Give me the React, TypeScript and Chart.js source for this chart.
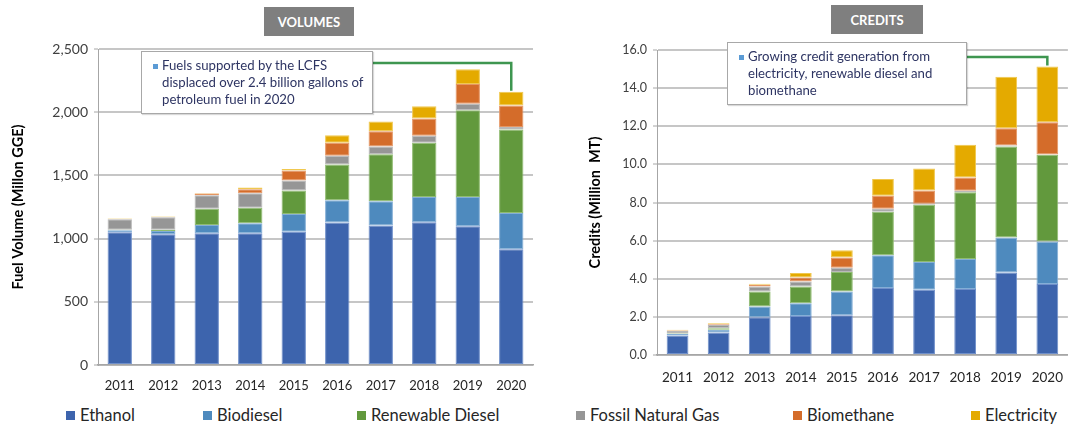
import React, { useEffect, useRef } from "react";
import { Chart, registerables } from "chart.js";

Chart.register(...registerables);

const YEARS = ["2011", "2012", "2013", "2014", "2015", "2016", "2017", "2018", "2019", "2020"];

const SERIES_NAMES = ["Ethanol", "Biodiesel", "Renewable Diesel", "Fossil Natural Gas", "Biomethane", "Electricity"];
const SERIES_COLORS = ["#3d64ad", "#4e8abe", "#62993d", "#969696", "#d46c2a", "#e4aa00"];
const SERIES_EDGES = ["#6f8fca", "#84aed6", "#8fbb70", "#b9b9b9", "#e59663", "#f0c84f"];

// Volumes (million GGE)
const VOL_ETHANOL = [1050, 1034, 1042, 1042, 1055, 1127, 1103, 1129, 1098, 916];
const VOL_BIODIESEL = [16, 27, 66, 79, 140, 176, 193, 201, 232, 287];
const VOL_RENEWABLE_DIESEL = [5, 10, 129, 124, 185, 284, 372, 428, 686, 660];
const VOL_FOSSIL_GAS = [82, 98, 106, 114, 80, 68, 61, 55, 50, 19];
const VOL_BIOMETHANE = [2, 2, 13, 31, 79, 103, 121, 137, 158, 171];
const VOL_ELECTRICITY = [5, 3, 5, 14, 11, 60, 76, 97, 115, 108];

// Credits (million MT)
const CRED_ETHANOL = [1.02, 1.18, 1.98, 2.04, 2.09, 3.51, 3.42, 3.46, 4.33, 3.72];
const CRED_BIODIESEL = [0.08, 0.15, 0.56, 0.68, 1.24, 1.72, 1.46, 1.58, 1.83, 2.23];
const CRED_RENEWABLE_DIESEL = [0.03, 0.07, 0.79, 0.88, 1.02, 2.28, 3.0, 3.5, 4.78, 4.55];
const CRED_FOSSIL_GAS = [0.13, 0.18, 0.27, 0.26, 0.23, 0.16, 0.05, 0.08, 0.05, 0.02];
const CRED_BIOMETHANE = [0.02, 0.03, 0.08, 0.21, 0.54, 0.68, 0.7, 0.69, 0.91, 1.69];
const CRED_ELECTRICITY = [0.04, 0.06, 0.06, 0.23, 0.37, 0.88, 1.15, 1.72, 2.7, 2.93];

const VOL_TICK_STEP = 500;
const VOL_MAX = 2500;
const CRED_TICK_STEP = 2;
const CRED_MAX = 16;

const FONT = "Lato, 'Open Sans', sans-serif";

type ChartProps = {
  width: number;
  height: number;
  series: number[][];
  max: number;
  step: number;
  fmt: (v: number) => string;
  yTitle: string;
  yAxisWidth: number;
  titlePad: number;
  padTop: number;
  padRight: number;
  xAxisHeight: number;
  xTickPad: number;
  xTickSize: number;
  yTickSize: number;
  barPct: number;
  lineStartX: number;
  lineY: number;
};

function StackedChart(p: ChartProps) {
  const ref = useRef<HTMLCanvasElement | null>(null);
  useEffect(() => {
    if (!ref.current) return;
    const connector = {
      id: "connector",
      afterDatasetsDraw(chart: any) {
        const { ctx, scales } = chart;
        const idx = YEARS.length - 1;
        let total = 0;
        chart.data.datasets.forEach((d: any) => (total += d.data[idx]));
        const bx = scales.x.getPixelForValue(idx);
        const by = scales.y.getPixelForValue(total);
        ctx.save();
        ctx.strokeStyle = "#3e9650";
        ctx.lineWidth = 2.5;
        ctx.beginPath();
        ctx.moveTo(p.lineStartX, p.lineY);
        ctx.lineTo(bx, p.lineY);
        ctx.lineTo(bx, by - 1);
        ctx.stroke();
        ctx.restore();
      },
    };
    const chart = new Chart(ref.current, {
      type: "bar",
      data: {
        labels: YEARS,
        datasets: p.series.map((data, i) => ({
          label: SERIES_NAMES[i],
          data,
          backgroundColor: SERIES_COLORS[i],
          borderColor: SERIES_EDGES[i],
          borderWidth: 1,
          borderSkipped: false,
          barPercentage: p.barPct,
          categoryPercentage: 1,
        })),
      },
      options: {
        animation: false,
        responsive: false,
        devicePixelRatio: 1,
        layout: { padding: { top: p.padTop, right: p.padRight, left: 0, bottom: 0 } },
        plugins: { legend: { display: false }, tooltip: { enabled: false } },
        scales: {
          x: {
            stacked: true,
            grid: { display: false, drawTicks: false },
            border: { display: true, color: "#a6a6a6", width: 1.5 },
            ticks: { font: { family: FONT, size: p.xTickSize }, color: "#262626", padding: p.xTickPad },
            afterFit: (s: any) => {
              s.height = p.xAxisHeight;
            },
          },
          y: {
            stacked: true,
            min: 0,
            max: p.max,
            ticks: {
              stepSize: p.step,
              callback: (v: any) => p.fmt(Number(v)),
              font: { family: FONT, size: p.yTickSize },
              color: "#404040",
              padding: 6,
            },
            grid: { color: "#c6c6c6", lineWidth: 2, tickLength: 4, tickColor: "#a6a6a6", tickWidth: 1 },
            border: { display: true, color: "#a6a6a6", width: 1 },
            title: {
              display: true,
              text: p.yTitle,
              font: { family: FONT, size: 14.5, weight: "bold" },
              color: "#000",
              padding: { top: p.titlePad, bottom: 0 },
            },
            afterFit: (s: any) => {
              s.width = p.yAxisWidth;
            },
          },
        },
      },
      plugins: [connector],
    } as any);
    return () => chart.destroy();
  }, []);
  return <canvas ref={ref} width={p.width} height={p.height} style={{ width: p.width, height: p.height, display: "block" }} />;
}

function Note({ left, top, width, height, lines }: { left: number; top: number; width: number; height: number; lines: string[] }) {
  return (
    <div
      style={{
        position: "absolute",
        left,
        top,
        width,
        height,
        boxSizing: "border-box",
        background: "#fff",
        border: "1.5px solid #a8a8a8",
        boxShadow: "1px 1px 1px rgba(0,0,0,0.15)",
        fontFamily: FONT,
        fontSize: 13.2,
        lineHeight: "17px",
        color: "#2e3563",
        paddingTop: 5,
        paddingLeft: 20,
      }}
    >
      <div style={{ position: "absolute", left: 11, top: 12, width: 5, height: 5, background: "#5b9bd5" }} />
      {lines.map((l, i) => (
        <div key={i} style={{ whiteSpace: "nowrap" }}>
          {l}
        </div>
      ))}
    </div>
  );
}

function TitleBox({ left, top, width, height, text }: { left: number; top: number; width: number; height: number; text: string }) {
  return (
    <div
      style={{
        position: "absolute",
        left,
        top,
        width,
        height,
        background: "#7f7f7f",
        color: "#fff",
        fontFamily: FONT,
        fontWeight: 700,
        fontSize: 13,
        display: "flex",
        alignItems: "center",
        justifyContent: "center",
      }}
    >
      {text}
    </div>
  );
}

const LEGEND_X = [66, 203, 357, 576, 793, 971];

export default function App() {
  const volSeries = [VOL_ETHANOL, VOL_BIODIESEL, VOL_RENEWABLE_DIESEL, VOL_FOSSIL_GAS, VOL_BIOMETHANE, VOL_ELECTRICITY];
  const credSeries = [CRED_ETHANOL, CRED_BIODIESEL, CRED_RENEWABLE_DIESEL, CRED_FOSSIL_GAS, CRED_BIOMETHANE, CRED_ELECTRICITY];
  return (
    <div style={{ position: "fixed", left: 0, top: 0, width: 1078, height: 426, background: "#fff", overflow: "hidden" }}>
      <div style={{ position: "absolute", left: 0, top: 0 }}>
        <StackedChart
          width={545}
          height={395}
          series={volSeries}
          max={VOL_MAX}
          step={VOL_TICK_STEP}
          fmt={(v) => v.toLocaleString("en-US")}
          yTitle="Fuel Volume (Millon GGE)"
          yAxisWidth={98}
          titlePad={10}
          padTop={49}
          padRight={12}
          xAxisHeight={30}
          xTickPad={13}
          xTickSize={13}
          yTickSize={14}
          barPct={0.56}
          lineStartX={373}
          lineY={63}
        />
      </div>
      <div style={{ position: "absolute", left: 555, top: 0 }}>
        <StackedChart
          width={523}
          height={395}
          series={credSeries}
          max={CRED_MAX}
          step={CRED_TICK_STEP}
          fmt={(v) => v.toFixed(1)}
          yTitle="Credits (Million  MT)"
          yAxisWidth={102}
          titlePad={32}
          padTop={50}
          padRight={0}
          xAxisHeight={40}
          xTickPad={15}
          xTickSize={13.5}
          yTickSize={12.5}
          barPct={0.53}
          lineStartX={412}
          lineY={57}
        />
      </div>
      <TitleBox left={264} top={7} width={90} height={29} text="VOLUMES" />
      <TitleBox left={831} top={5} width={92} height={29} text="CREDITS" />
      <Note
        left={141}
        top={51}
        width={232}
        height={63}
        lines={["Fuels supported by the LCFS", "displaced over 2.4 billion gallons of", "petroleum fuel in 2020"]}
      />
      <Note
        left={727}
        top={42}
        width={240}
        height={63}
        lines={["Growing credit generation from", "electricity, renewable diesel and", "biomethane"]}
      />
      {SERIES_NAMES.map((name, i) => (
        <div
          key={name}
          style={{
            position: "absolute",
            left: LEGEND_X[i],
            top: 405,
            height: 20,
            display: "flex",
            alignItems: "center",
            fontFamily: FONT,
            fontSize: 16.5,
            color: "#262626",
            whiteSpace: "nowrap",
          }}
        >
          <span style={{ display: "inline-block", width: 9, height: 9, background: SERIES_COLORS[i], marginRight: 5 }} />
          {name}
        </div>
      ))}
    </div>
  );
}
